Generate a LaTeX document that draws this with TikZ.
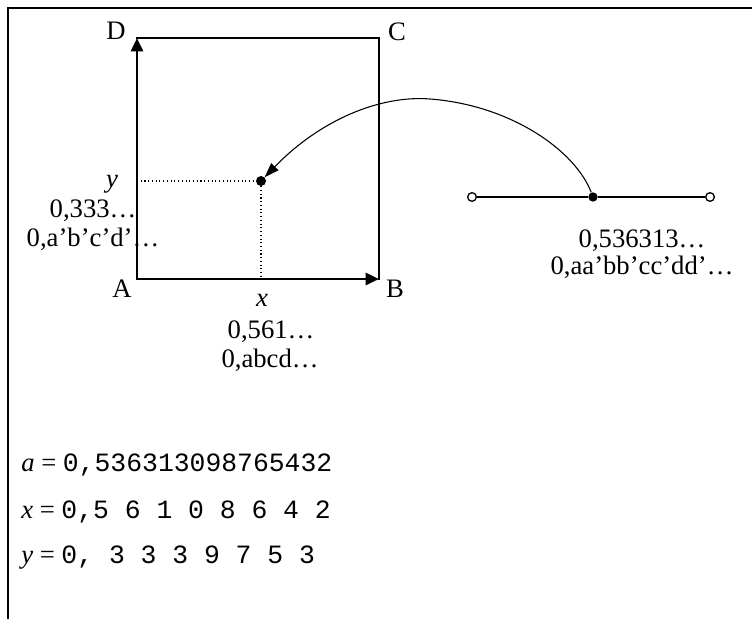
\documentclass[tikz,border=0pt]{standalone}
\usepackage{fontspec}
\setmainfont{Liberation Serif}
\setmonofont{Liberation Mono}
\usepackage{tikz}
\usetikzlibrary{arrows.meta,calc}
\newcommand{\monodigits}[1]{{\fontsize{19.8}{22}\selectfont\ttfamily #1}}

\begin{document}
\begin{tikzpicture}[x=0.75pt,y=-0.75pt,>=Latex,
  lbl/.style={anchor=base,inner sep=0pt,font=\fontsize{20}{24}\selectfont},
  row/.style={anchor=base west,inner sep=0pt,font=\fontsize{20}{24}\selectfont},
  side/.style={line width=2pt,line cap=rect},
  axis/.style={line width=2pt,line cap=rect,-{Triangle[length=10pt,width=9pt]}},
  dot/.style={circle,fill,inner sep=0pt,minimum size=7pt},
  hole/.style={circle,draw,fill=white,line width=1pt,inner sep=0pt,minimum size=6.5pt}]
  \useasboundingbox (0,0) rectangle (752,619);
  \draw[line width=2pt] (8,619) -- (8,8) -- (752,8);
  % unit square
  \coordinate (A) at (137,279);
  \coordinate (B) at (379,279);
  \coordinate (C) at (379,38);
  \coordinate (D) at (137,38);
  \draw[axis] (A) -- (D);
  \draw[axis] (A) -- (B);
  \draw[side] (D) -- (C) -- (B);
  \node[lbl] (labD) at (116,39) {D};
  \node[lbl] (labC) at (397,40) {C};
  \node[lbl] (labA) at (122,297) {A};
  \node[lbl] (labB) at (395,297) {B};
  % image point
  \node[dot,minimum size=7.5pt] (P) at (261,181) {};
  \draw[dotted,line width=0.8pt] (A |- P) -- (P) -- (P |- A);
  \node[lbl] (ylab) at (112,187) {\textit{y}};
  \node[lbl] (yval) at (93,217) {0,333…};
  \node[lbl] (ydig) at (93,246) {0,a’b’c’d’…};
  \node[lbl] (xlab) at (262,306) {\textit{x}};
  \node[lbl] (xval) at (271,338) {0,561…};
  \node[lbl] (xdig) at (270,367) {0,abcd…};
  % unit segment
  \node[hole] (L) at (472,197) {};
  \node[dot] (S) at (593,197) {};
  \node[hole] (R) at (710,197) {};
  \draw[line width=2pt] (L) -- (S) -- (R);
  \node[lbl] (aval) at (642,247) {0,536313…};
  \node[lbl] (adig) at (642,274) {0,aa’bb’cc’dd’…};
  \draw[line width=0.8pt,-{Triangle[length=11pt,width=7.5pt]}] (S)
    .. controls (575,150) and (510,105) .. (430,99)
    .. controls (380,95) and (320,120) .. (P);
  % digit rows
  \node[row] (arow) at (21,471) {\textit{a} = \monodigits{0,536313098765432}};
  \node[row] (xrow) at (21,518) {\textit{x} = \monodigits{0,5 6 1 0 8 6 4 2}};
  \node[row] (yrow) at (21,563) {\textit{y} = \monodigits{0, 3 3 3 9 7 5 3}};
\end{tikzpicture}
\end{document}
